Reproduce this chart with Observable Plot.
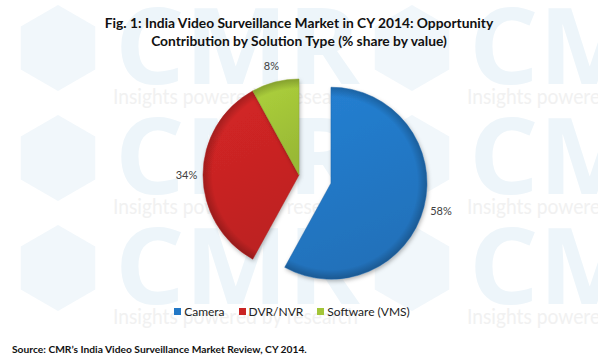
<!DOCTYPE html>
<html><head><meta charset="utf-8">
<script src="https://cdn.jsdelivr.net/npm/d3@7"></script>
<script src="https://cdn.jsdelivr.net/npm/@observablehq/plot@0.6"></script>
<style>
body{margin:0;background:#fff;}
#wrap{position:relative;width:598px;height:363px;overflow:hidden;font-family:Lato,"Open Sans",sans-serif;}
#wm{position:absolute;left:0;top:0;z-index:0}
#title{position:absolute;left:0;top:14px;width:598px;text-align:center;font-weight:bold;font-size:14px;line-height:18px;color:#111;z-index:1}
#title span{display:inline-block;white-space:nowrap}
#chart{position:absolute;left:0;top:55px;z-index:1}
#legend{position:absolute;top:295px;left:0;width:598px;display:flex;justify-content:center;z-index:1}
#source{position:absolute;left:12px;top:343px;font-weight:bold;font-size:11.5px;color:#111;white-space:nowrap;z-index:1}
</style>
</head><body>
<div id="wrap">
  <svg id="wm" width="598" height="363"></svg>
  <div id="title"></div>
  <div id="chart"></div>
  <div id="legend"></div>
  <div id="source"></div>
</div>
<script>
// ---- data ----
const categories = ["Camera", "DVR/NVR", "Software (VMS)"];
const shares = [58, 34, 8];
const shareLabels = ["58%", "34%", "8%"];
const titleLines = ["Fig. 1: India Video Surveillance Market in CY 2014: Opportunity",
                    "Contribution by Solution Type (% share by value)"];
const sourceText = "Source: CMR\u2019s India Video Surveillance Market Review, CY 2014.";
const watermarkWords = ["CMR", "Insights powered by research"];

// ---- styles ----
const palette = ["#2378c6", "#c92424", "#a3c538"];
const W = 598, H = 240, R = 96, EXPLODE = 33, LABEL_R = 113;

const rows = categories.map((c, i) => ({category: c, share: shares[i], label: shareLabels[i]}));
const color = Plot.scale({color: {type: "ordinal", domain: categories, range: palette}});

const pie = d3.pie().sort(null).value(d => d.share).startAngle(0).endAngle(2 * Math.PI)(rows);
const arc = d3.arc().innerRadius(0).outerRadius(R);
const mid = p => (p.startAngle + p.endAngle) / 2;
const offset = (p, i) => i === 0 ? [Math.sin(mid(p)) * EXPLODE, -Math.cos(mid(p)) * EXPLODE] : [0, 0];
const cx = W / 2, cy = H / 2;

const labelData = pie.map((p, i) => {
  const [ox, oy] = offset(p, i);
  return {x: cx + ox + Math.sin(mid(p)) * LABEL_R, y: cy + oy - Math.cos(mid(p)) * LABEL_R, text: p.data.label};
});

function slicesMark(index, scales, values, dims) {
  const g = d3.create("svg:g");
  const defs = g.append("defs");
  const f = defs.append("filter").attr("id", "sh").attr("x", "-20%").attr("y", "-20%").attr("width", "140%").attr("height", "140%");
  f.append("feDropShadow").attr("dx", 1).attr("dy", 2).attr("stdDeviation", 2).attr("flood-color", "#000").attr("flood-opacity", 0.3);
  pie.forEach((p, i) => {
    const base = d3.color(color.apply(p.data.category));
    const lg = defs.append("linearGradient").attr("id", "lg" + i).attr("x1", 0).attr("y1", 0).attr("x2", 0.3).attr("y2", 1);
    lg.append("stop").attr("offset", "0%").attr("stop-color", base.brighter(0.18).formatHex());
    lg.append("stop").attr("offset", "100%").attr("stop-color", base.darker(0.18).formatHex());
    const rg = defs.append("radialGradient").attr("id", "rg" + i).attr("gradientUnits", "userSpaceOnUse")
      .attr("cx", 0).attr("cy", 0).attr("r", R);
    rg.append("stop").attr("offset", "0.9").attr("stop-color", "#000").attr("stop-opacity", 0);
    rg.append("stop").attr("offset", "1").attr("stop-color", "#000").attr("stop-opacity", 0.22);
    const [ox, oy] = offset(p, i);
    const s = g.append("g").attr("transform", `translate(${cx + ox},${cy + oy})`);
    s.append("path").attr("d", arc(p)).attr("fill", `url(#lg${i})`).attr("filter", "url(#sh)");
    s.append("path").attr("d", arc(p)).attr("fill", `url(#rg${i})`)
      .attr("stroke", base.darker(0.5).formatHex()).attr("stroke-width", 0.8).attr("stroke-opacity", 0.6);
  });
  return g.node();
}

const chart = Plot.plot({
  width: W, height: H,
  margin: 0,
  x: {type: "identity", axis: null},
  y: {type: "identity", axis: null},
  style: {background: "transparent", fontFamily: "Lato, 'Open Sans', sans-serif"},
  marks: [
    slicesMark,
    Plot.text(labelData, {x: "x", y: "y", text: "text", fontSize: 11, fill: "#404040"})
  ]
});
document.getElementById("chart").appendChild(chart);

const legend = Plot.legend({
  color: {type: "ordinal", domain: categories, range: palette},
  swatchSize: 7,
  style: {fontSize: "12px", fontFamily: "Lato, 'Open Sans', sans-serif", background: "transparent", color: "#222"}
});
document.getElementById("legend").appendChild(legend);
const ls = document.createElement("style");
ls.textContent = `#legend span{margin-right:14px !important;margin-left:0 !important} #legend span svg{margin-right:3px !important}`;
document.head.appendChild(ls);

// title
const t = document.getElementById("title");
titleLines.forEach((l, i) => {
  const s = document.createElement("span"); s.textContent = l; t.appendChild(s);
  if (i < titleLines.length - 1) t.appendChild(document.createElement("br"));
});
const first = t.querySelector("span");
const w0 = first.getBoundingClientRect().width;
t.style.fontSize = (14 * 389 / w0) + "px";

const src = document.getElementById("source");
src.textContent = sourceText;
const sw = src.getBoundingClientRect().width;
src.style.fontSize = (11.5 * 295 / sw) + "px";

// watermark background (faint)
const wm = d3.select("#wm");
for (let col = 0; col < 2; col++) {
  for (let row = 0; row < 3; row++) {
    const x0 = col * 354, y0 = row * 110;
    const hc = [x0 + 58, y0 + 48], hr = 43;
    wm.append("polygon")
      .attr("points", d3.range(6).map(k => {
        const a = Math.PI / 6 + k * Math.PI / 3;
        return [hc[0] + hr * Math.cos(a), hc[1] + hr * Math.sin(a)].join(",");
      }).join(" "))
      .attr("fill", "#f1f7fb");
    wm.append("text").attr("x", x0 + 115).attr("y", y0 + 84).attr("font-size", 106)
      .attr("font-family", "'Open Sans', Lato, sans-serif").attr("font-weight", "bold")
      .attr("textLength", 245).attr("lengthAdjust", "spacingAndGlyphs")
      .attr("fill", "#edf5fa").text(watermarkWords[0]);
    wm.append("text").attr("x", x0 + 113).attr("y", y0 + 104).attr("font-size", 21)
      .attr("font-family", "Lato, sans-serif")
      .attr("textLength", 245).attr("lengthAdjust", "spacingAndGlyphs")
      .attr("fill", "#f1f1f1").text(watermarkWords[1]);
  }
}
</script>
</body></html>
